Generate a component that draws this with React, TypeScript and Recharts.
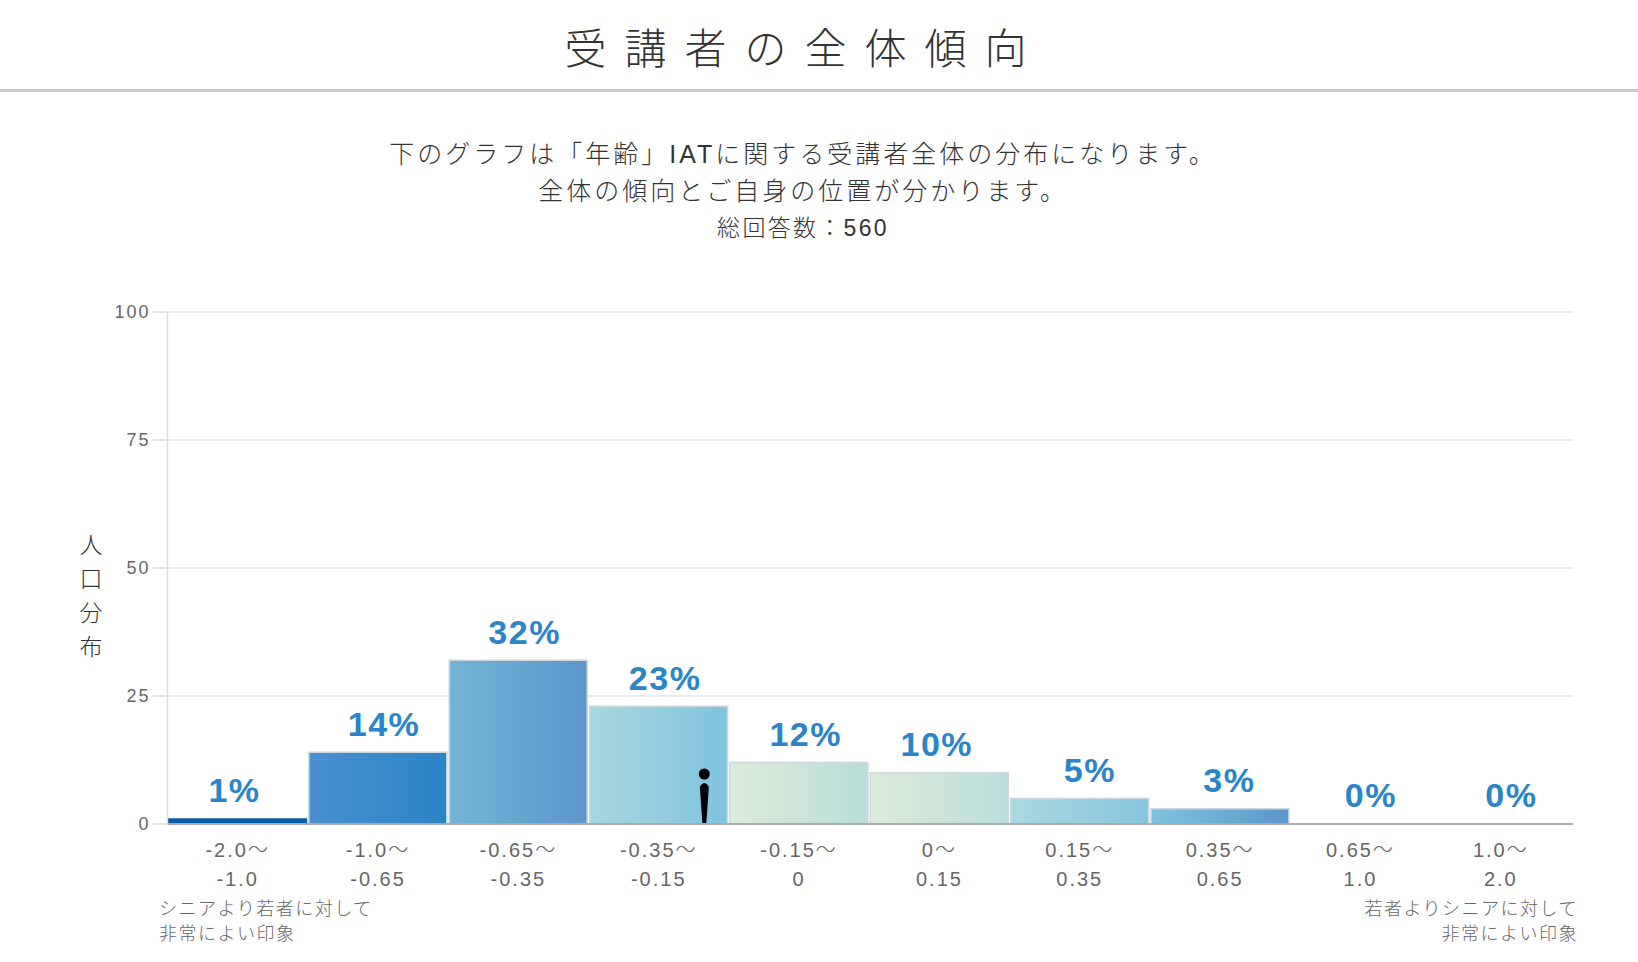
import { Bar, BarChart, CartesianGrid, Cell, LabelList, ReferenceDot, XAxis, YAxis } from "recharts";

const rangeFrom = ["-2.0～", "-1.0～", "-0.65～", "-0.35～", "-0.15～", "0～", "0.15～", "0.35～", "0.65～", "1.0～"];
const rangeTo = ["-1.0", "-0.65", "-0.35", "-0.15", "0", "0.15", "0.35", "0.65", "1.0", "2.0"];
const shares = [1, 14, 32, 23, 12, 10, 5, 3, 0, 0];
const yTicks = [0, 25, 50, 75, 100];
const userBucket = "-0.35～-0.15";

const gradients = [
  ["#0b5fa8", "#0b5fa8"],
  ["#4a90ce", "#2a84c6"],
  ["#74b4d6", "#5c96cb"],
  ["#a9d8de", "#7fc3df"],
  ["#dcebd8", "#b9deda"],
  ["#dcebd8", "#bbdedc"],
  ["#acd9de", "#85c6de"],
  ["#7fc3df", "#5c96ca"],
  ["#5c96ca", "#5c96ca"],
  ["#5c96ca", "#5c96ca"],
];
const labelNudge = [-3, 6.2, 6.4, 6.6, 6.8, -2.5, 10.2, 9.4, 10.6, 10.8];

const data = rangeFrom.map((from, i) => ({ bucket: from + rangeTo[i], share: shares[i] }));

const sans = '"Liberation Sans", "Noto Sans CJK JP", sans-serif';

function RangeTick({ x, y, index }: any) {
  return (
    <text x={x} y={y} textAnchor="middle" fill="#666" fontSize={20} letterSpacing={2} fontFamily={sans}>
      <tspan x={x} dy={25}>{rangeFrom[index]}</tspan>
      <tspan x={x} dy={29}>{rangeTo[index]}</tspan>
    </text>
  );
}

function ShareLabel({ x, y, width, value, index }: any) {
  return (
    <text
      x={x + width / 2 + labelNudge[index]}
      y={y - 16.5}
      textAnchor="middle"
      fill="#2a84c9"
      fontSize={34}
      fontWeight="bold"
      letterSpacing={1.5}
      fontFamily={sans}
    >
      {value}%
    </text>
  );
}

function PersonMark({ cx, cy }: any) {
  const mx = cx + 45.6;
  return (
    <g fill="#000">
      <circle cx={mx} cy={cy - 50} r={5.5} />
      <path d={`M${mx - 4.5} ${cy - 37} Q${mx} ${cy - 45} ${mx + 4.5} ${cy - 37} L${mx + 2} ${cy - 1} L${mx - 2} ${cy - 1} Z`} />
    </g>
  );
}

export default function App() {
  return (
    <div style={{ position: "absolute", left: 0, top: 0, width: 1638, height: 962, background: "#fff", color: "#333", fontFamily: sans, fontWeight: 300, overflow: "hidden" }}>
      <div style={{ position: "absolute", left: 0, width: 1609, top: 22, textAlign: "center", fontSize: 42, lineHeight: "56px", letterSpacing: 18 }}>
        受講者の全体傾向
      </div>
      <div style={{ position: "absolute", left: 0, width: 1638, top: 89, height: 3, background: "#ccc" }} />
      <div style={{ position: "absolute", left: 0, width: 1606, top: 136, textAlign: "center", fontSize: 25, lineHeight: "37px", letterSpacing: 3 }}>
        下のグラフは「年齢」IATに関する受講者全体の分布になります。
        <br />
        全体の傾向とご自身の位置が分かります。
        <div style={{ fontSize: 23, letterSpacing: 2.3 }}>総回答数：560</div>
      </div>

      <div style={{ position: "absolute", left: 71, width: 40, top: 528, textAlign: "center", fontSize: 23, lineHeight: "34px" }}>
        {"人口分布".split("").map((c) => (
          <div key={c}>{c}</div>
        ))}
      </div>

      <BarChart
        width={1638}
        height={962}
        data={data}
        barCategoryGap={1}
        margin={{ top: 312, right: 65, bottom: 78, left: 107.5 }}
        style={{ position: "absolute", left: 0, top: 0 }}
      >
        <defs>
          {gradients.map((g, i) => (
            <linearGradient key={i} id={`bar${i}`} x1="0" y1="0" x2="1" y2="0">
              <stop offset="0%" stopColor={g[0]} />
              <stop offset="100%" stopColor={g[1]} />
            </linearGradient>
          ))}
        </defs>
        <CartesianGrid horizontal vertical={false} stroke="#e6e6e6" strokeWidth={1.5} />
        <XAxis
          dataKey="bucket"
          interval={0}
          height={60}
          padding={{ right: 2 }}
          tick={<RangeTick />}
          tickLine={false}
          axisLine={{ stroke: "#aaa", strokeWidth: 2 }}
        />
        <YAxis
          width={60}
          domain={[0, 100]}
          ticks={yTicks}
          tickSize={15}
          tickMargin={2}
          tickLine={{ stroke: "#ddd", strokeWidth: 1.5 }}
          axisLine={{ stroke: "#e0e0e0", strokeWidth: 1.5 }}
          tick={{ fill: "#666", fontSize: 18, letterSpacing: 2, fontFamily: sans }}
        />
        <Bar dataKey="share" isAnimationActive={false} minPointSize={0.01}>
          {data.map((d, i) => (
            <Cell key={d.bucket} fill={`url(#bar${i})`} stroke={i === 0 ? "#0b5fa8" : d.share === 0 ? "none" : "#ccd8dd"} strokeWidth={1.5} />
          ))}
          <LabelList dataKey="share" content={<ShareLabel />} />
        </Bar>
        <ReferenceDot x={userBucket} y={0} shape={<PersonMark />} ifOverflow="visible" />
      </BarChart>

      <div style={{ position: "absolute", left: 159, top: 897, fontSize: 18, lineHeight: "25px", letterSpacing: 1.5, color: "#666" }}>
        シニアより若者に対して
        <br />
        非常によい印象
      </div>
      <div style={{ position: "absolute", right: 60, top: 897, textAlign: "right", fontSize: 18, lineHeight: "25px", letterSpacing: 1.5, color: "#666" }}>
        若者よりシニアに対して
        <br />
        非常によい印象
      </div>
    </div>
  );
}
